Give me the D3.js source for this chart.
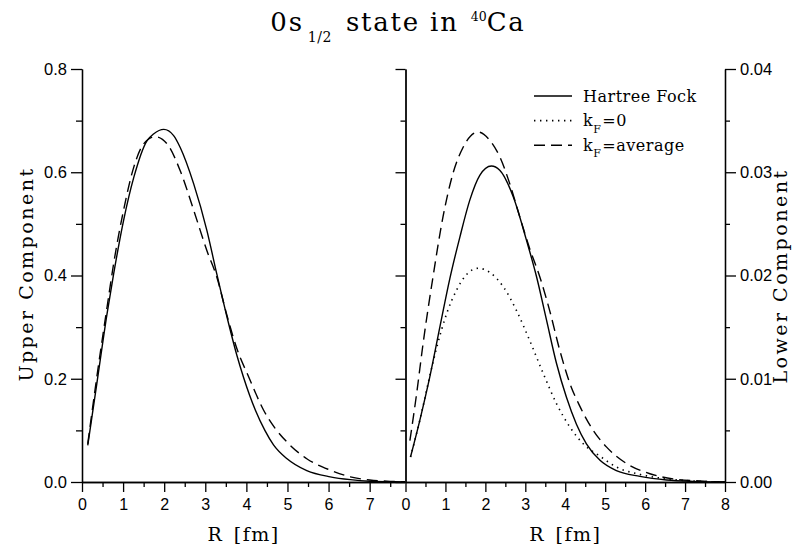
<!DOCTYPE html>
<html>
<head>
<meta charset="utf-8">
<script src="https://cdnjs.cloudflare.com/ajax/libs/d3/7.8.5/d3.min.js"></script>
<style>
  body { margin: 0; background: #fff; }
  svg { display: block; }
  .tick text { font-family: "Liberation Sans", Arial, sans-serif; fill: #000; }
  .serif { font-family: "DejaVu Serif", serif; fill: #000; }
</style>
</head>
<body>
<div id="chart"></div>
<script>
// upper component (left panel)
const hfUpperR = [0.14, 0.36, 0.61, 0.77, 1.01, 1.26, 1.58, 1.74, 1.99, 2.23, 2.39, 2.72, 3.04, 3.28, 3.53, 3.77, 3.93, 4.22, 4.45, 4.66, 4.99, 5.47, 6.04, 6.53, 7.0, 7.5, 7.86];
const hfUpper = [0.071, 0.19, 0.326, 0.403, 0.506, 0.59, 0.661, 0.674, 0.683, 0.671, 0.648, 0.577, 0.487, 0.403, 0.319, 0.245, 0.203, 0.139, 0.1, 0.072, 0.045, 0.022, 0.010, 0.0045, 0.0015, 0.0005, 0.0002];
const avgUpperR = [0.14, 0.36, 0.61, 0.77, 1.01, 1.26, 1.5, 1.78, 2.07, 2.39, 2.72, 3.04, 3.28, 3.53, 3.77, 4.06, 4.42, 4.7, 5.03, 5.47, 6.04, 6.53, 7.0, 7.5, 7.86];
const avgUpper = [0.074, 0.203, 0.339, 0.423, 0.526, 0.61, 0.655, 0.669, 0.655, 0.603, 0.526, 0.448, 0.397, 0.322, 0.258, 0.203, 0.139, 0.104, 0.074, 0.045, 0.023, 0.010, 0.004, 0.0012, 0.0004];

// lower component (right panel)
const hfLowerR = [0.125, 0.36, 0.61, 0.86, 1.11, 1.36, 1.61, 1.86, 2.15, 2.36, 2.7, 3.03, 3.28, 3.53, 3.78, 4.03, 4.28, 4.53, 4.87, 5.28, 5.87, 6.54, 7.2, 8.0];
const hfLower = [0.00242, 0.006, 0.0102, 0.015, 0.0197, 0.0237, 0.0273, 0.0297, 0.0306, 0.0302, 0.0276, 0.0234, 0.0199, 0.0157, 0.0115, 0.0082, 0.0056, 0.0037, 0.0021, 0.0011, 0.00055, 0.0002, 0.00006, 0.0];
const kf0LowerR = [0.125, 0.36, 0.61, 0.78, 1.03, 1.28, 1.53, 1.82, 2.11, 2.45, 2.78, 3.11, 3.45, 3.78, 4.12, 4.45, 4.87, 5.28, 5.87, 6.54, 7.2, 8.0];
const kf0Lower = [0.00242, 0.006, 0.0103, 0.013, 0.0163, 0.0186, 0.0201, 0.0207, 0.0203, 0.0189, 0.0166, 0.0137, 0.0105, 0.0076, 0.0053, 0.0037, 0.0025, 0.00145, 0.00074, 0.0003, 0.0001, 0.0];
const avgLowerR = [0.11, 0.28, 0.44, 0.69, 0.94, 1.19, 1.44, 1.82, 2.11, 2.36, 2.61, 2.86, 3.11, 3.36, 3.61, 3.86, 4.12, 4.37, 4.7, 5.03, 5.53, 6.12, 6.7, 7.37, 8.0];
const avgLower = [0.004, 0.0086, 0.0134, 0.0199, 0.0257, 0.0299, 0.0324, 0.0339, 0.0331, 0.0315, 0.0289, 0.0257, 0.0226, 0.0199, 0.0166, 0.0128, 0.0095, 0.0073, 0.005, 0.0034, 0.0018, 0.0008, 0.0003, 0.0001, 0.0];

const upperTicks = [0, 0.2, 0.4, 0.6, 0.8];
const upperMinor = [0.1, 0.3, 0.5, 0.7];
const lowerTicks = [0, 0.01, 0.02, 0.03, 0.04];
const lowerMinor = [0.005, 0.015, 0.025, 0.035];
const leftXTicks = [0, 1, 2, 3, 4, 5, 6, 7];
const rightXTicks = [0, 1, 2, 3, 4, 5, 6, 7, 8];
const xMinor = [0.5, 1.5, 2.5, 3.5, 4.5, 5.5, 6.5, 7.5];

const legendNames = ["Hartree Fock", "k|F|=0", "k|F|=average"];
const dashes = [null, "1.4,4.6", "11,6"];

const width = 799,
  height = 550;

const svg = d3
  .select("#chart")
  .append("svg")
  .attr("width", width)
  .attr("height", height);

const xLeft = d3.scaleLinear().domain([0, 7.86]).range([82, 405]);
const xRight = d3.scaleLinear().domain([0, 8]).range([405.5, 725]);
const yUpper = d3.scaleLinear().domain([0, 0.8]).range([482, 69]);
const yLower = d3.scaleLinear().domain([0, 0.04]).range([482, 69]);

function drawAxis(axis, tx, ty, fontSize) {
  const g = svg
    .append("g")
    .attr("transform", `translate(${tx},${ty})`)
    .call(axis);
  g.select(".domain").attr("stroke", "#000").attr("stroke-width", 1.3);
  g.selectAll(".tick line").attr("stroke", "#000").attr("stroke-width", 1.3);
  g.selectAll(".tick text").style("font-size", fontSize + "px");
  return g;
}

// left y axis
drawAxis(d3.axisLeft(yUpper).tickValues(upperTicks).tickFormat(d3.format(".1f")).tickSize(11).tickPadding(4).tickSizeOuter(0), 82, 0, 16.5);
drawAxis(d3.axisLeft(yUpper).tickValues(upperMinor).tickFormat("").tickSize(6).tickSizeOuter(0), 82, 0, 16.5);

// divider axis (ticks only)
drawAxis(d3.axisLeft(yUpper).tickValues(upperTicks).tickFormat("").tickSize(10).tickSizeOuter(0), 405.5, 0, 16);
drawAxis(d3.axisLeft(yUpper).tickValues(upperMinor).tickFormat("").tickSize(5).tickSizeOuter(0), 405.5, 0, 16);

// right y axis
drawAxis(d3.axisRight(yLower).tickValues(lowerTicks).tickFormat(d3.format(".2f")).tickSize(11).tickPadding(4).tickSizeOuter(0), 725, 0, 16.5);
drawAxis(d3.axisRight(yLower).tickValues(lowerMinor).tickFormat("").tickSize(5).tickSizeOuter(0), 725, 0, 16.5);

// x axes
drawAxis(d3.axisBottom(xLeft).tickValues(leftXTicks).tickFormat(d3.format("d")).tickSize(10).tickPadding(7).tickSizeOuter(0), 0, 482, 16);
drawAxis(d3.axisBottom(xLeft).tickValues(xMinor).tickFormat("").tickSize(5).tickSizeOuter(0), 0, 482, 16);
drawAxis(d3.axisBottom(xRight).tickValues(rightXTicks).tickFormat(d3.format("d")).tickSize(10).tickPadding(7).tickSizeOuter(0), 0, 482, 16);
drawAxis(d3.axisBottom(xRight).tickValues(xMinor).tickFormat("").tickSize(5).tickSizeOuter(0), 0, 482, 16);

// curves
function curve(rs, vs, x, y, dash) {
  const line = d3
    .line()
    .x((d, i) => x(rs[i]))
    .y((d) => y(d))
    .curve(d3.curveMonotoneX);
  svg
    .append("path")
    .attr("d", line(vs))
    .attr("fill", "none")
    .attr("stroke", "#000")
    .attr("stroke-width", dash === dashes[1] ? 1.6 : 1.4)
    .attr("stroke-dasharray", dash);
}

curve(hfUpperR, hfUpper, xLeft, yUpper, dashes[0]);
curve(avgUpperR, avgUpper, xLeft, yUpper, dashes[2]);
curve(hfLowerR, hfLower, xRight, yLower, dashes[0]);
curve(kf0LowerR, kf0Lower, xRight, yLower, dashes[1]);
curve(avgLowerR, avgLower, xRight, yLower, dashes[2]);

// title
const title = svg
  .append("text")
  .attr("class", "serif")
  .attr("x", 398)
  .attr("y", 31)
  .attr("text-anchor", "middle")
  .style("font-size", "26px")
  .style("letter-spacing", "1.8px");
title.append("tspan").text("0s");
title.append("tspan").attr("dx", 4).attr("dy", 10.5).style("font-size", "14px").style("letter-spacing", "0.5px").text("1/2");
title.append("tspan").attr("dx", 14).attr("dy", -10.5).text("state in");
title.append("tspan").attr("dx", 12).attr("dy", -10).style("font-size", "12.5px").style("letter-spacing", "0px").text("40");
title.append("tspan").attr("dy", 10).text("Ca");

// axis titles
svg
  .append("text")
  .attr("class", "serif")
  .attr("transform", "translate(33,274) rotate(-90)")
  .attr("text-anchor", "middle")
  .style("font-size", "19px")
  .style("letter-spacing", "2.5px")
  .text("Upper Component");

svg
  .append("text")
  .attr("class", "serif")
  .attr("transform", "translate(787,276) rotate(-90)")
  .attr("text-anchor", "middle")
  .style("font-size", "19px")
  .style("letter-spacing", "2.5px")
  .text("Lower Component");

[xLeft, xRight].forEach(function (x) {
  const mid = (x.range()[0] + x.range()[1]) / 2;
  svg
    .append("text")
    .attr("class", "serif")
    .attr("x", mid)
    .attr("y", 541)
    .attr("text-anchor", "middle")
    .style("font-size", "19px")
    .style("letter-spacing", "1.5px")
    .style("word-spacing", "3px")
    .text("R [fm]");
});

// legend
const legend = svg.append("g").attr("transform", "translate(534,0)");
legendNames.forEach(function (name, i) {
  const base = 101.5 + i * 24.6;
  legend
    .append("line")
    .attr("x1", 0)
    .attr("x2", 38)
    .attr("y1", base - 5.5)
    .attr("y2", base - 5.5)
    .attr("stroke", "#000")
    .attr("stroke-width", i === 1 ? 1.6 : 1.4)
    .attr("stroke-dasharray", dashes[i]);
  const parts = name.split("|");
  const t = legend
    .append("text")
    .attr("class", "serif")
    .attr("x", 49)
    .attr("y", base)
    .style("font-size", "16px")
    .style("letter-spacing", "0.5px");
  t.append("tspan").text(parts[0]);
  if (parts.length > 1) {
    t.append("tspan").attr("dy", 6.5).style("font-size", "11px").text(parts[1]);
    t.append("tspan").attr("dx", 1).attr("dy", -6.5).text(parts[2]);
  }
});
</script>
</body>
</html>
